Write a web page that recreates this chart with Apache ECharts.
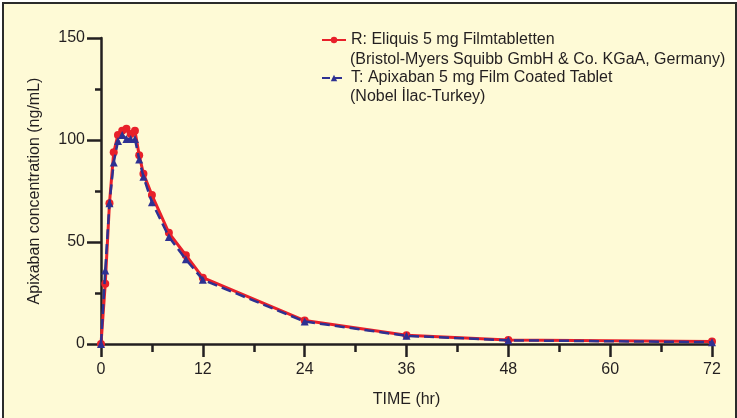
<!DOCTYPE html>
<html lang="en">
<head>
<meta charset="UTF-8">
<title>Apixaban concentration</title>
<script src="https://cdn.jsdelivr.net/npm/echarts@6/dist/echarts.min.js"></script>
<style>
  html, body { margin: 0; padding: 0; background: #fff; }
  #frame {
    position: absolute; left: 2px; top: 2px; width: 731px; height: 420px;
    background: #fefad6; border: 2px solid #2b2b2b; border-bottom: none;
  }
  #main { position: absolute; left: 0; top: 0; width: 737px; height: 418px; }
</style>
</head>
<body>
<div id="frame"></div>
<div id="main"></div>
<script>
// sampling times (hr)
var times = [0, 0.5, 1, 1.5, 2, 2.5, 3, 3.5, 4, 4.5, 5, 6, 8, 10, 12, 24, 36, 48, 72];
// R: Eliquis (ng/mL)
var refValues = [0, 29.5, 69, 94, 102.5, 104.5, 105.5, 103, 104.5, 92.5, 83.5, 73, 54.5, 43.5, 32.5, 11.5, 4.3, 2.0, 1.2];
// T: Apixaban Nobel (ng/mL)
var testValues = [0, 36, 69, 89, 99.5, 102.5, 100.5, 100.5, 100.5, 90.5, 82, 69.5, 52.5, 41.5, 31.5, 11, 4.0, 1.8, 0.9];
var xTicks = [0, 12, 24, 36, 48, 60, 72];
var yTicks = [0, 50, 100, 150];

var refName = 'R: Eliquis 5 mg Filmtabletten';
var testName = 'T: Apixaban 5 mg Film Coated Tablet';

var font = '"Liberation Sans", Arial, sans-serif';
var ink = '#231f20';

var chart = echarts.init(document.getElementById('main'));
chart.setOption({
  backgroundColor: 'transparent',
  animation: false,
  textStyle: { fontFamily: font },
  grid: { left: 101, right: 25, top: 38, bottom: 74 },
  legend: {
    orient: 'vertical',
    left: 316,
    top: 27,
    itemWidth: 24,
    itemHeight: 8,
    itemGap: 22,
    textStyle: { fontSize: 16, color: ink, fontFamily: font },
    data: [refName, testName]
  },
  graphic: [
    { type: 'text', left: 350, top: 52, style: { text: '(Bristol-Myers Squibb GmbH & Co. KGaA, Germany)', fontSize: 16, fill: ink, fontFamily: font } },
    { type: 'text', left: 350, top: 89, style: { text: '(Nobel İlac-Turkey)', fontSize: 16, fill: ink, fontFamily: font } }
  ],
  xAxis: {
    type: 'value',
    min: xTicks[0],
    max: xTicks[xTicks.length - 1],
    interval: 12,
    name: 'TIME (hr)',
    nameLocation: 'middle',
    nameGap: 48,
    nameTextStyle: { fontSize: 16, color: ink },
    axisLine: { lineStyle: { color: ink, width: 2.5 } },
    axisTick: { length: 13, lineStyle: { color: ink, width: 2.5 } },
    minorTick: { show: true, splitNumber: 2, length: 8, lineStyle: { color: ink, width: 2.5 } },
    axisLabel: { fontSize: 16, color: ink, margin: 18 },
    splitLine: { show: false }
  },
  yAxis: {
    type: 'value',
    min: yTicks[0],
    max: yTicks[yTicks.length - 1],
    interval: 50,
    name: 'Apixaban concentration (ng/mL)',
    nameLocation: 'middle',
    nameGap: 58,
    nameTextStyle: { fontSize: 16, color: ink },
    axisLine: { show: true, lineStyle: { color: ink, width: 2.5 } },
    axisTick: { show: true, length: 14, lineStyle: { color: ink, width: 2.5 } },
    minorTick: { show: true, splitNumber: 2, length: 6, lineStyle: { color: ink, width: 2.5 } },
    axisLabel: { fontSize: 16, color: ink, margin: 16 },
    splitLine: { show: false }
  },
  series: [
    {
      name: refName,
      type: 'line',
      data: times.map(function (t, i) { return [t, refValues[i]]; }),
      symbol: 'circle',
      symbolSize: 8,
      itemStyle: { color: '#e8202a' },
      lineStyle: { color: '#e8202a', width: 3 },
      z: 2
    },
    {
      name: testName,
      type: 'line',
      data: times.map(function (t, i) { return [t, testValues[i]]; }),
      symbol: 'triangle',
      symbolSize: 8,
      itemStyle: { color: '#2e3192' },
      lineStyle: { color: '#2e3192', width: 2.5, type: 'dashed' },
      z: 3
    }
  ]
});
</script>
</body>
</html>
